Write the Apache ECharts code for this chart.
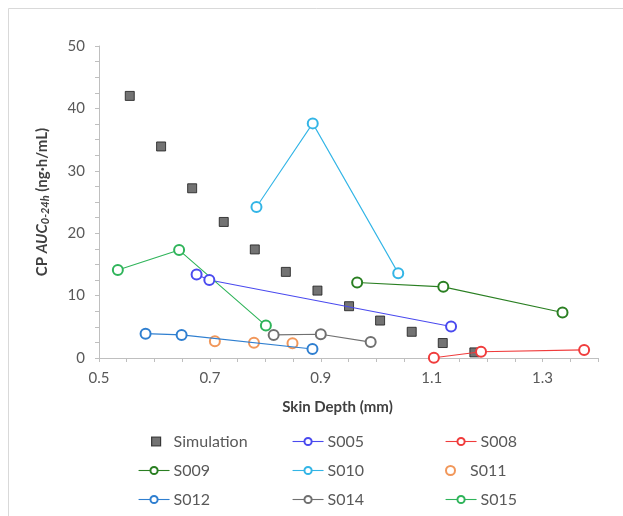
<!DOCTYPE html>
<html><head><meta charset="utf-8">
<script src="https://cdn.jsdelivr.net/npm/echarts@6/dist/echarts.min.js"></script>
<style>html,body{margin:0;padding:0;background:#fff}#c{width:623px;height:516px}</style>
</head><body><div id="c"></div>
<script>
const simX = [0.5555, 0.612, 0.668, 0.725, 0.781, 0.837, 0.894, 0.951, 1.007, 1.064, 1.120, 1.177];
const simY = [42.0, 33.9, 27.2, 21.8, 17.4, 13.8, 10.8, 8.3, 6.0, 4.2, 2.4, 0.9];
const s005X = [0.676, 0.699, 1.135];
const s005Y = [13.4, 12.5, 5.06];
const s008X = [1.104, 1.189, 1.375];
const s008Y = [0.05, 1.0, 1.3];
const s009X = [0.9656, 1.121, 1.336];
const s009Y = [12.1, 11.4, 7.3];
const s010X = [0.784, 0.8855, 1.0397];
const s010Y = [24.2, 37.6, 13.6];
const s011X = [0.709, 0.7795, 0.849];
const s011Y = [2.7, 2.45, 2.35];
const s012X = [0.584, 0.649, 0.885];
const s012Y = [3.9, 3.7, 1.45];
const s014X = [0.815, 0.900, 0.990];
const s014Y = [3.7, 3.8, 2.55];
const s015X = [0.534, 0.6445, 0.801];
const s015Y = [14.1, 17.3, 5.2];
const xLabels = ['0.5', '0.7', '0.9', '1.1', '1.3'];
const yLabels = ['0', '10', '20', '30', '40', '50'];

const pair = (xs, ys) => xs.map((x, i) => [x, ys[i]]);
const font = 'Lato, "Open Sans", sans-serif';

function lineSeries(name, xs, ys, color) {
  return {
    name, type: 'line', data: pair(xs, ys),
    symbol: 'emptyCircle', symbolSize: 10,
    itemStyle: { color: color, borderColor: color, borderWidth: 1.2 },
    lineStyle: { color: color, width: 1.1 },
    emphasis: { disabled: true }
  };
}

const series = [
  { name: 'Simulation', type: 'scatter', data: pair(simX, simY), symbol: 'rect', symbolSize: 9,
    itemStyle: { color: '#505050', borderColor: '#1a1a1a', borderWidth: 1 } },
  lineSeries('S005', s005X, s005Y, '#4a4aef'),
  lineSeries('S008', s008X, s008Y, '#f03c3c'),
  lineSeries('S009', s009X, s009Y, '#2a7f22'),
  lineSeries('S010', s010X, s010Y, '#33b5e6'),
  { name: 'S011', type: 'scatter', data: pair(s011X, s011Y), symbol: 'emptyCircle', symbolSize: 10,
    itemStyle: { color: '#ed7d31', borderColor: '#ed7d31', borderWidth: 1.2 } },
  lineSeries('S012', s012X, s012Y, '#2f7fd0'),
  lineSeries('S014', s014X, s014Y, '#707070'),
  lineSeries('S015', s015X, s015Y, '#2fb45a')
];

const legendNames = [['Simulation', 'S005', 'S008'], ['S009', 'S010', 'S011'], ['S012', 'S014', 'S015']];
const colLeft = [138, 292, 445];
const rowCenter = [441.5, 470.5, 499.5];
const legends = [];
legendNames.forEach((row, r) => row.forEach((name, c) => {
  const isSim = name === 'Simulation';
  legends.push({
    orient: 'horizontal', padding: 0,
    left: isSim ? 151 : colLeft[c], top: rowCenter[r] - 9,
    itemWidth: isSim ? 9 : 31, itemHeight: isSim ? 9 : 9,
    lineStyle: { width: 1.1 },
    itemStyle: { borderWidth: 1.2 },
    data: [name], selectedMode: false,
    textStyle: { fontFamily: font, fontSize: 16, color: '#595959', lineHeight: 18,
      padding: isSim ? [0, 0, 0, 8] : [0, 0, 0, -1] }
  });
}));

const chart = echarts.init(document.getElementById('c'), null, { renderer: 'canvas' });
chart.setOption({
  animation: false,
  backgroundColor: '#fff',
  graphic: [{ type: 'rect', shape: { x: 8.5, y: 8.5, width: 700, height: 600 },
    style: { fill: 'none', stroke: '#d9d9d9', lineWidth: 1 }, silent: true }],
  grid: { left: 99, right: 25, top: 46, bottom: 158, containLabel: false },
  xAxis: {
    type: 'value', min: 0.5, max: 1.4, interval: 0.05,
    name: 'Skin Depth (mm)', nameLocation: 'middle', nameGap: 42,
    nameTextStyle: { fontFamily: font, fontSize: 15, fontWeight: 'bold', color: '#404040', padding: [0, 22, 0, 0] },
    axisLine: { lineStyle: { color: '#bfbfbf', width: 1 } },
    axisTick: { show: true, length: 4, lineStyle: { color: '#bfbfbf' } },
    splitLine: { show: false },
    axisLabel: {
      fontFamily: font, fontSize: 15, color: '#595959', margin: 13,
      formatter: v => { const s = v.toFixed(1); return (Math.round(v * 100) % 20 === 10 && xLabels.includes(s)) ? s : ''; }
    }
  },
  yAxis: {
    type: 'value', min: 0, max: 50, interval: 2.5,
    name: '{b|CP }{i|AUC}{s|0-24h}{b| (ng·h/mL)}', nameLocation: 'middle', nameGap: 48, nameRotate: 90,
    nameTextStyle: {
      fontFamily: font, color: '#404040',
      rich: {
        b: { fontFamily: font, fontSize: 15, fontWeight: 'bold', color: '#404040' },
        i: { fontFamily: font, fontSize: 15, fontWeight: 'bold', fontStyle: 'italic', color: '#404040' },
        s: { fontFamily: font, fontSize: 11, fontWeight: 'bold', fontStyle: 'italic', color: '#404040', padding: [6, 0, 0, 0] }
      }
    },
    axisLine: { show: true, lineStyle: { color: '#bfbfbf', width: 1 } },
    axisTick: { show: true, length: 4, lineStyle: { color: '#bfbfbf' } },
    splitLine: { show: false },
    axisLabel: {
      fontFamily: font, fontSize: 15, color: '#595959', margin: 14,
      formatter: v => { const s = String(Math.round(v)); return (Math.abs(v % 10) < 1e-6 && yLabels.includes(s)) ? s : ''; }
    }
  },
  legend: legends,
  series: series
});
</script></body></html>
